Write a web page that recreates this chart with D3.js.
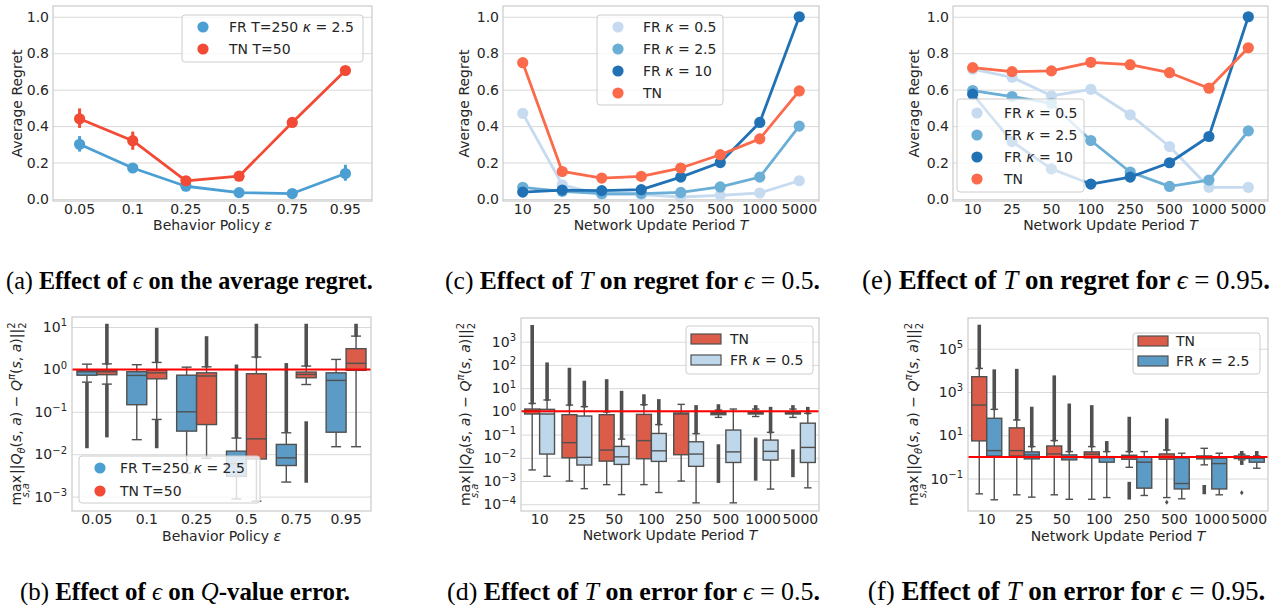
<!DOCTYPE html>
<html><head><meta charset="utf-8">
<script src="https://cdn.jsdelivr.net/npm/d3@7"></script>
<style>
body{margin:0;background:#fff;}
svg{display:block;}
text{font-family:"DejaVu Sans",sans-serif;fill:#262626;}
.cap{font-family:"Liberation Serif","Times New Roman",serif;fill:#000;}
</style></head><body>
<script>
// ================= DATA =================
const epsCats = ["0.05","0.1","0.25","0.5","0.75","0.95"];
const periodCats = ["10","25","50","100","250","500","1000","5000"];
const regretTicks = [0,0.2,0.4,0.6,0.8,1.0];

// (a) average regret vs behaviour epsilon
const aLabels = ["FR T=250 κ = 2.5","TN T=50"];
const aFR = [0.30,0.17,0.07,0.035,0.03,0.14];
const aFRci = [[0.26,0.345],[0.16,0.185],[0.06,0.08],[0.03,0.042],[0.025,0.036],[0.10,0.188]];
const aTN = [0.44,0.32,0.10,0.125,0.42,0.705];
const aTNci = [[0.39,0.497],[0.27,0.37],[0.09,0.11],[0.115,0.14],[0.41,0.43],[0.70,0.715]];

// (c) regret vs T, eps = 0.5
const cFR05 = [0.47,0.078,0.024,0.024,0.011,0.02,0.033,0.10];
const cFR25 = [0.064,0.042,0.03,0.03,0.036,0.066,0.12,0.40];
const cFR10 = [0.038,0.049,0.046,0.051,0.12,0.20,0.42,1.0];
const cTN   = [0.748,0.151,0.115,0.124,0.17,0.243,0.33,0.593];

// (e) regret vs T, eps = 0.95
const eFR05 = [0.712,0.668,0.566,0.602,0.462,0.288,0.064,0.064];
const eFR25 = [0.595,0.562,0.525,0.321,0.148,0.069,0.104,0.374];
const eFR10 = [0.575,0.315,0.165,0.082,0.12,0.199,0.343,1.0];
const eTN   = [0.721,0.699,0.703,0.75,0.737,0.693,0.608,0.83];

// box stats: [whiskerLow, q1, median, q3, whiskerHigh]; fliers as [low, high] ranges
// (b) Q-value error vs epsilon
const bFR = [[0.50,0.73,0.88,0.96,1.33],[0.022,0.147,0.72,0.88,1.29],[0.0036,0.035,0.10,0.73,1.13],
             [0.00088,0.003,0.006,0.0118,0.024],[0.0022,0.0054,0.0082,0.017,0.032],[0.015,0.033,0.55,0.83,1.72]];
const bFRfl = [[[0.015,0.45]],[],[],[[0.026,1.2]],[[0.035,1.3]],[]];
const bTN = [[0.45,0.75,0.88,0.96,1.35],[0.066,0.60,0.83,0.96,1.46],[0.008,0.05,0.70,0.83,1.15],
             [0.00078,0.0077,0.023,0.79,1.96],[0.44,0.635,0.76,0.865,1.2],[0.015,0.95,1.39,3.08,6.1]];
const bTNfl = [[[0.027,0.42],[1.4,11]],[[0.015,0.062],[1.55,8.8]],[[1.2,5.6]],[[2.0,11]],[[0.0023,0.055],[1.25,11]],[[6.3,11]]];
const bTicks = [1e-3,1e-2,1e-1,1e0,1e1];

// (d) Q-value error vs T, eps = 0.5
const dTN = [[0.0030,0.77,1.07,1.26,2.2],[0.001,0.01,0.045,0.72,1.87],[0.0007,0.0072,0.0215,0.72,0.95],
             [0.0007,0.0091,0.055,0.74,1.94],[0.001,0.0136,0.77,0.85,2.0],[0.55,0.72,0.80,0.88,1.14],
             [0.6,0.77,0.83,0.9,1.26],[0.55,0.77,0.83,0.9,1.26]];
const dTNfl = [[[2.3,4500]],[[1.95,65]],[[1.0,21]],[[2.0,4.7]],[],[[0.00096,0.033],[1.2,1.75]],
               [[0.0012,0.064],[1.3,1.6]],[[0.0017,0.02],[1.3,1.6]]];
const dFR = [[0.0016,0.0145,0.77,1.22,3.1],[0.00047,0.0049,0.0105,0.63,1.6],[0.00026,0.0052,0.011,0.031,0.064],
             [0.00032,0.0070,0.020,0.112,0.27],[0.000115,0.0043,0.0145,0.049,0.11],[0.000115,0.0063,0.018,0.157,1.26],
             [0.00045,0.008,0.019,0.058,0.125],[0.00051,0.0063,0.028,0.31,0.82]];
const dFRfl = [[[3.3,110]],[[1.7,18]],[[0.07,6.6]],[[0.29,2.9]],[[0.12,1.6]],[],[[0.13,1.35]],[[0.85,1.35]]];
const dTicks = [1e-4,1e-3,1e-2,1e-1,1e0,1e1,1e2,1e3];

// (f) Q-value error vs T, eps = 0.95
const fTN = [[0.0196,5.5,250,5100,12300],[0.0177,1.1,1.96,22,51],[0.0177,1.0,1.37,3.2,5.7],
             [0.011,0.9,1.33,1.7,3.0],[0.33,0.78,1.04,1.19,1.76],[0.0132,0.78,1.04,1.37,2.1],
             [0.43,0.81,0.93,1.11,2.5],[0.73,0.84,0.93,1.11,1.33]];
const fTNfl = [[[13000,1.1e6]],[[55,10000]],[[6,5000]],[[3.2,210]],[[0.0125,0.06],[1.85,61]],
               [[0.0081,0.0081],[2.2,51]],[[0.022,0.043]],[[0.022,0.022],[0.5,0.6],[1.4,1.6]]];
const fFR = [[0.0104,1.1,1.96,61,158],[0.0138,0.81,1.24,1.7,3.0],[0.011,0.73,0.93,1.24,1.76],
             [0.0132,0.57,0.93,1.03,1.76],[0.0165,0.036,0.57,0.97,1.76],[0.0116,0.033,0.059,0.9,1.48],
             [0.0177,0.033,0.49,0.87,1.48],[0.3,0.57,0.87,0.93,1.11]];
const fFRfl = [[[170,9500]],[[3.2,178]],[[1.9,250]],[[1.9,4.6]],[],[],[],[[1.2,1.6]]];
const fTicks = [1e-1,1e1,1e3,1e5];

// ================= DRAWING =================
const W = 1279, H = 605;
const svg = d3.select("body").append("svg").attr("width", W).attr("height", H);
const GRID = "#d9d9d9", EDGE = "#cccccc", BOXLINE = "#505050";

function gridBase(g, P, y, ticks) {
  g.append("g").attr("transform", `translate(${P.x0},0)`)
    .call(d3.axisLeft(y).tickValues(ticks).tickSize(-(P.x1 - P.x0)).tickFormat(""))
    .call(a => a.select(".domain").remove())
    .call(a => a.selectAll("line").attr("stroke", GRID).attr("stroke-width", 1));
}
function frame(g, P) {
  g.append("rect").attr("x", P.x0).attr("y", P.y0).attr("width", P.x1 - P.x0).attr("height", P.y1 - P.y0)
    .attr("fill", "none").attr("stroke", EDGE).attr("stroke-width", 1.25);
}
function xAxis(g, P, x) {
  g.append("g").attr("transform", `translate(0,${P.y1})`)
    .call(d3.axisBottom(x).tickSize(0).tickPadding(3.5))
    .call(a => a.select(".domain").remove())
    .call(a => a.selectAll("text").attr("font-size", 14).attr("fill", "#262626")
      .style("font-family", "DejaVu Sans"));
}
function yAxisLinear(g, P, y, ticks) {
  g.append("g").attr("transform", `translate(${P.x0},0)`)
    .call(d3.axisLeft(y).tickValues(ticks).tickSize(0).tickPadding(4).tickFormat(d3.format(".1f")))
    .call(a => a.select(".domain").remove())
    .call(a => a.selectAll("text").attr("font-size", 14).attr("fill", "#262626").style("font-family", "DejaVu Sans"));
}
function yAxisLog(g, P, y, ticks) {
  g.append("g").attr("transform", `translate(${P.x0},0)`)
    .call(d3.axisLeft(y).tickValues(ticks).tickSize(0).tickPadding(5).tickFormat(""))
    .call(a => a.select(".domain").remove())
    .call(a => a.selectAll("text").attr("font-size", 14).attr("fill", "#262626").style("font-family", "DejaVu Sans")
      .each(function(d) {
        const e = Math.round(Math.log10(d));
        const t = d3.select(this);
        t.text(null);
        t.append("tspan").text("10");
        t.append("tspan").attr("font-size", 10).attr("dy", "-0.55em").text(e < 0 ? "\u2212" + (-e) : String(e));
      }));
}
function xTitle(g, P, yb, parts) {
  const t = g.append("text").attr("x", (P.x0 + P.x1) / 2).attr("y", yb).attr("text-anchor", "middle").attr("font-size", 14);
  parts.forEach(p => t.append("tspan").attr("font-style", p[1] ? "italic" : null).text(p[0]));
}
function yTitle(g, x, yc, txt) {
  g.append("text").attr("transform", `translate(${x},${yc}) rotate(-90)`).attr("text-anchor", "middle")
    .attr("font-size", 14).text(txt);
}
function qTitle(g, x, yc) {
  const t = g.append("text").attr("transform", `translate(${x},${yc}) rotate(-90)`).attr("text-anchor", "middle")
    .attr("font-size", 14);
  const sp = (txt, o) => { const s = t.append("tspan").text(txt); if (o) Object.entries(o).forEach(([k, v]) => s.attr(k, v)); return s; };
  sp("max");
  sp("s,a", {"font-size": 10, "font-style": "italic", dx: -22.5, dy: 8});
  sp("||", {dx: 9, dy: -8});
  sp("Q", {"font-style": "italic"});
  sp("θ", {"font-size": 10, "font-style": "italic", dy: 4});
  sp("(", {dy: -4}); sp("s", {"font-style": "italic"}); sp(", "); sp("a", {"font-style": "italic"});
  sp(") \u2212 ");
  sp("Q", {"font-style": "italic"});
  sp("π", {"font-size": 10, "font-style": "italic", dy: -6});
  sp("(", {dy: 6}); sp("s", {"font-style": "italic"}); sp(", "); sp("a", {"font-style": "italic"}); sp(")||");
  sp("2", {"font-size": 10, dy: -6});
  sp("2", {"font-size": 10, dx: -6.4, dy: 11});
}

// point-plot series
function pointSeries(g, x, y, cats, vals, color, ci) {
  const cx = c => x(c) + x.bandwidth() / 2;
  if (ci) {
    g.selectAll(null).data(ci).enter().append("line")
      .attr("x1", (d, i) => cx(cats[i])).attr("x2", (d, i) => cx(cats[i]))
      .attr("y1", d => y(d[0])).attr("y2", d => y(d[1]))
      .attr("stroke", color).attr("stroke-width", 3);
  }
  g.append("path").datum(vals)
    .attr("d", d3.line().x((d, i) => cx(cats[i])).y(d => y(d)))
    .attr("fill", "none").attr("stroke", color).attr("stroke-width", 2.8).attr("stroke-linejoin", "round");
  g.selectAll(null).data(vals).enter().append("circle")
    .attr("cx", (d, i) => cx(cats[i])).attr("cy", d => y(d)).attr("r", 5.6).attr("fill", color);
}
function legendBox(g, x, y, w, h) {
  g.append("rect").attr("x", x).attr("y", y).attr("width", w).attr("height", h).attr("rx", 3)
    .attr("fill", "#fff").attr("fill-opacity", 0.8).attr("stroke", EDGE).attr("stroke-width", 1);
}
function labelText(g, x, y, label) {
  const t = g.append("text").attr("x", x).attr("y", y).attr("font-size", 14);
  const m = label.match(/^(.*?)κ(.*)$/);
  if (m) { t.append("tspan").text(m[1]); t.append("tspan").attr("font-style", "italic").text("κ"); t.append("tspan").text(m[2]); }
  else t.text(label);
}
function pointLegend(g, x, y, w, h, items, mx, tx, y0, dy) {
  legendBox(g, x, y, w, h);
  items.forEach((it, i) => {
    g.append("circle").attr("cx", mx).attr("cy", y0 + i * dy).attr("r", 5.6).attr("fill", it[1]);
    labelText(g, tx, y0 + i * dy + 5, it[0]);
  });
}
function patchLegend(g, x, y, w, h, items, px, tx, y0, dy) {
  legendBox(g, x, y, w, h);
  items.forEach((it, i) => {
    g.append("rect").attr("x", px).attr("y", y0 + i * dy - 5).attr("width", 30).attr("height", 10)
      .attr("fill", it[1]).attr("stroke", BOXLINE).attr("stroke-width", 1.2);
    labelText(g, tx, y0 + i * dy + 5, it[0]);
  });
}

// box series
function boxSeries(g, x, y, cats, stats, fliers, color, offset) {
  const bw = x.bandwidth() * 0.4;
  cats.forEach((c, i) => {
    const s = stats[i];
    const cx = x(c) + x.bandwidth() / 2 + offset * x.bandwidth();
    const gg = g.append("g");
    gg.append("line").attr("x1", cx).attr("x2", cx).attr("y1", y(s[0])).attr("y2", y(s[1]))
      .attr("stroke", BOXLINE).attr("stroke-width", 1.4);
    gg.append("line").attr("x1", cx).attr("x2", cx).attr("y1", y(s[3])).attr("y2", y(s[4]))
      .attr("stroke", BOXLINE).attr("stroke-width", 1.4);
    [s[0], s[4]].forEach(v => gg.append("line").attr("x1", cx - bw / 4).attr("x2", cx + bw / 4)
      .attr("y1", y(v)).attr("y2", y(v)).attr("stroke", BOXLINE).attr("stroke-width", 1.4));
    gg.append("rect").attr("x", cx - bw / 2).attr("width", bw).attr("y", y(s[3]))
      .attr("height", Math.max(1, y(s[1]) - y(s[3]))).attr("fill", color)
      .attr("stroke", BOXLINE).attr("stroke-width", 1.4);
    gg.append("line").attr("x1", cx - bw / 2).attr("x2", cx + bw / 2).attr("y1", y(s[2])).attr("y2", y(s[2]))
      .attr("stroke", BOXLINE).attr("stroke-width", 1.4);
    (fliers[i] || []).forEach(r => {
      if (r[1] / r[0] < 1.08) {
        const yy = y(Math.sqrt(r[0] * r[1]));
        gg.append("path").attr("d", `M${cx},${yy - 2.5}L${cx + 1.8},${yy}L${cx},${yy + 2.5}L${cx - 1.8},${yy}Z`)
          .attr("fill", BOXLINE);
      } else {
        gg.append("line").attr("x1", cx).attr("x2", cx).attr("y1", y(r[0]) + 1.5).attr("y2", y(r[1]) - 1.5)
          .attr("stroke", BOXLINE).attr("stroke-width", 3.6);
      }
    });
  });
}
function refLine(g, P, y) {
  g.append("line").attr("x1", P.x0).attr("x2", P.x1).attr("y1", y(1)).attr("y2", y(1))
    .attr("stroke", "#ff0000").attr("stroke-width", 2);
}

// ---------- layouts ----------
const PA = {x0: 53, x1: 372, y0: 6, y1: 201};
const PC = {x0: 503, x1: 819, y0: 6, y1: 201};
const PE = {x0: 953, x1: 1268, y0: 6, y1: 201};
const PB = {x0: 72, x1: 371, y0: 317, y1: 511};
const PD = {x0: 521, x1: 819, y0: 318, y1: 511};
const PF = {x0: 968, x1: 1268, y0: 318, y1: 511};

const colA = {FR: "#4c9fd3", TN: "#f24a35"};
const colT = {k05: "#c6dbef", k25: "#6baed6", k10: "#2171b5", TN: "#fb6a4a"};
const colBox = {FR: "#5b9bc6", TN: "#dc5c4a", FRlight: "#bfd7ea"};

function regretY(P) { return d3.scaleLinear().domain([-0.011, 1.059]).range([P.y1, P.y0]); }

// ---------- (a) ----------
{
  const g = svg.append("g");
  const x = d3.scaleBand().domain(epsCats).range([PA.x0, PA.x1]);
  const y = regretY(PA);
  gridBase(g, PA, y, regretTicks);
  pointSeries(g, x, y, epsCats, aFR, colA.FR, aFRci);
  pointSeries(g, x, y, epsCats, aTN, colA.TN, aTNci);
  pointLegend(g, 182, 15, 181, 47, [[aLabels[0], colA.FR], [aLabels[1], colA.TN]], 203, 229, 27, 22);
  frame(g, PA);
  xAxis(g, PA, x); yAxisLinear(g, PA, y, regretTicks);
  xTitle(g, PA, 229.5, [["Behavior Policy "], ["ε", true]]);
  yTitle(g, 22, (PA.y0 + PA.y1) / 2, "Average Regret");
}
// ---------- (c) & (e) ----------
function regretT(P, series, leg) {
  const g = svg.append("g");
  const x = d3.scaleBand().domain(periodCats).range([P.x0, P.x1]);
  const y = regretY(P);
  gridBase(g, P, y, regretTicks);
  series.forEach(s => pointSeries(g, x, y, periodCats, s[0], s[1]));
  pointLegend(g, leg.x, leg.y, leg.w, leg.h,
    [["FR κ = 0.5", colT.k05], ["FR κ = 2.5", colT.k25], ["FR κ = 10", colT.k10], ["TN", colT.TN]],
    leg.mx, leg.tx, leg.y0, 22);
  frame(g, P);
  xAxis(g, P, x); yAxisLinear(g, P, y, regretTicks);
  xTitle(g, P, 229.5, [["Network Update Period "], ["T", true]]);
  yTitle(g, P.x0 - 34, (P.y0 + P.y1) / 2, "Average Regret");
}
regretT(PC, [[cFR05, colT.k05], [cFR25, colT.k25], [cFR10, colT.k10], [cTN, colT.TN]],
  {x: 597, y: 15, w: 126, h: 90, mx: 618, tx: 643, y0: 27});
regretT(PE, [[eFR05, colT.k05], [eFR25, colT.k25], [eFR10, colT.k10], [eTN, colT.TN]],
  {x: 957, y: 99, w: 127, h: 93, mx: 977, tx: 1004, y0: 113});

// ---------- (b) ----------
{
  const g = svg.append("g");
  const x = d3.scaleBand().domain(epsCats).range([PB.x0, PB.x1]);
  const y = d3.scaleLog().domain([Math.pow(10, -3.34), Math.pow(10, 1.236)]).range([PB.y1, PB.y0]);
  gridBase(g, PB, y, bTicks);
  boxSeries(g, x, y, epsCats, bFR, bFRfl, colBox.FR, -0.2);
  boxSeries(g, x, y, epsCats, bTN, bTNfl, colBox.TN, 0.2);
  refLine(g, PB, y);
  pointLegend(g, 79, 456, 181, 47, [[aLabels[0], colA.FR], [aLabels[1], colA.TN]], 100, 120, 468, 23);
  frame(g, PB);
  xAxis(g, PB, x); yAxisLog(g, PB, y, bTicks);
  xTitle(g, PB, 541, [["Behavior Policy "], ["ε", true]]);
  qTitle(g, 21, (PB.y0 + PB.y1) / 2);
}
// ---------- (d) ----------
{
  const g = svg.append("g");
  const x = d3.scaleBand().domain(periodCats).range([PD.x0, PD.x1]);
  const y = d3.scaleLog().domain([Math.pow(10, -4.29), Math.pow(10, 4.02)]).range([PD.y1, PD.y0]);
  gridBase(g, PD, y, dTicks);
  boxSeries(g, x, y, periodCats, dTN, dTNfl, colBox.TN, -0.2);
  boxSeries(g, x, y, periodCats, dFR, dFRfl, colBox.FRlight, 0.2);
  refLine(g, PD, y);
  patchLegend(g, 686, 326, 127, 48, [["TN", colBox.TN], ["FR κ = 0.5", colBox.FRlight]], 691, 730, 339, 21);
  frame(g, PD);
  xAxis(g, PD, x); yAxisLog(g, PD, y, dTicks);
  xTitle(g, PD, 539.5, [["Network Update Period "], ["T", true]]);
  qTitle(g, 470, (PD.y0 + PD.y1) / 2);
}
// ---------- (f) ----------
{
  const g = svg.append("g");
  const x = d3.scaleBand().domain(periodCats).range([PF.x0, PF.x1]);
  const y = d3.scaleLog().domain([Math.pow(10, -2.5), Math.pow(10, 6.42)]).range([PF.y1, PF.y0]);
  gridBase(g, PF, y, fTicks);
  boxSeries(g, x, y, periodCats, fTN, fTNfl, colBox.TN, -0.2);
  boxSeries(g, x, y, periodCats, fFR, fFRfl, colBox.FR, 0.2);
  refLine(g, PF, y);
  patchLegend(g, 1133, 333, 127, 41, [["TN", colBox.TN], ["FR κ = 2.5", colBox.FR]], 1138, 1176, 341, 20);
  frame(g, PF);
  xAxis(g, PF, x); yAxisLog(g, PF, y, fTicks);
  xTitle(g, PF, 541, [["Network Update Period "], ["T", true]]);
  qTitle(g, 918, (PF.y0 + PF.y1) / 2);
}

// ---------- captions (fitted to the horizontal span they occupy) ----------
const captions = [
  {x0: 6, x1: 373, y: 289, parts: [["(a) ", ""], ["Effect of ", "b"], ["ϵ", "i"], [" on the average regret.", "b"]]},
  {x0: 445, x1: 820, y: 289, parts: [["(c) ", ""], ["Effect of ", "b"], ["T", "i"], [" on regret for ", "b"], ["ϵ", "i"], [" = 0.5", ""], [".", "b"]]},
  {x0: 862, x1: 1270, y: 289, parts: [["(e) ", ""], ["Effect of ", "b"], ["T", "i"], [" on regret for ", "b"], ["ϵ", "i"], [" = 0.95", ""], [".", "b"]]},
  {x0: 20, x1: 350, y: 600, parts: [["(b) ", ""], ["Effect of ", "b"], ["ϵ", "i"], [" on ", "b"], ["Q", "i"], ["-value error.", "b"]]},
  {x0: 447, x1: 820, y: 600, parts: [["(d) ", ""], ["Effect of ", "b"], ["T", "i"], [" on error for ", "b"], ["ϵ", "i"], [" = 0.5", ""], [".", "b"]]},
  {x0: 865, x1: 1268, y: 600, parts: [["(f) ", ""], ["Effect of ", "b"], ["T", "i"], [" on error for ", "b"], ["ϵ", "i"], [" = 0.95", ""], [".", "b"]]}
];
captions.forEach(c => {
  const t = svg.append("text").attr("class", "cap").attr("x", (c.x0 + c.x1) / 2).attr("y", c.y)
    .attr("text-anchor", "middle").attr("font-size", 25);
  c.parts.forEach(p => t.append("tspan")
    .attr("font-weight", p[1] === "b" ? "bold" : "normal")
    .attr("font-style", p[1] === "i" ? "italic" : "normal").text(p[0]));
  const wNow = t.node().getComputedTextLength();
  const fs = Math.max(22.5, Math.min(27, 25 * (c.x1 - c.x0) / wNow));
  t.attr("font-size", fs);
});
</script></body></html>
